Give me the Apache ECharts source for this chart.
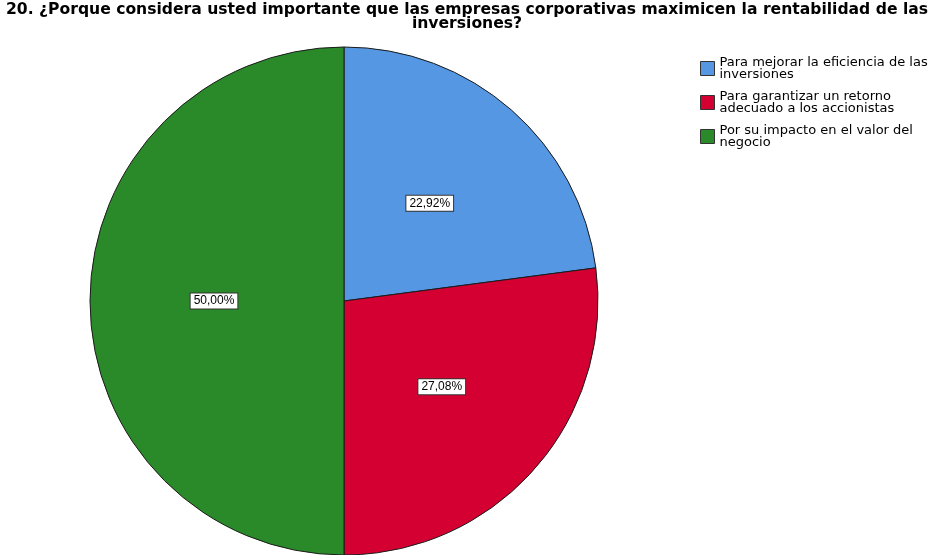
<!DOCTYPE html>
<html>
<head>
<meta charset="utf-8">
<script src="https://cdn.jsdelivr.net/npm/echarts@6/dist/echarts.min.js"></script>
<style>
  html, body { margin: 0; padding: 0; background: #fff; }
  #pie { width: 934px; height: 555px; }
</style>
</head>
<body>
<div id="pie"></div>
<script>
// respuestas de la pregunta 20
const categorias = [
    'Para mejorar la eficiencia de las\ninversiones',
    'Para garantizar un retorno\nadecuado a los accionistas',
    'Por su impacto en el valor del\nnegocio'
];
const porcentajes = [22.92, 27.08, 50.00];
const colores = ['#5597e3', '#d50032', '#2a8a2a'];
const tituloLineas = [
    '20. ¿Porque considera usted importante que las empresas corporativas maximicen la rentabilidad de las',
    'inversiones?'
];

let myChart = echarts.init(document.getElementById('pie'));

const estiloTitulo = {
    fontFamily: 'DejaVu Sans',
    fontSize: 15.6,
    fontWeight: 'bold',
    color: '#000'
};

myChart.setOption({
    animation: false,
    color: colores,
    title: tituloLineas.map((t, i) => ({
        text: t,
        left: 'center',
        top: 2 + i * 14,
        padding: 0,
        textStyle: estiloTitulo
    })),
    legend: {
        orient: 'vertical',
        left: 700,
        top: 56,
        padding: 0,
        itemWidth: 14,
        itemHeight: 14,
        itemGap: 9,
        icon: 'rect',
        itemStyle: { borderColor: '#333', borderWidth: 1 },
        textStyle: {
            fontFamily: 'DejaVu Sans',
            fontSize: 13,
            lineHeight: 12,
            color: '#000'
        },
        data: categorias
    },
    series: [{
        type: 'pie',
        center: [344, 301],
        radius: 254,
        startAngle: 90,
        clockwise: true,
        itemStyle: { borderColor: '#1a1a1a', borderWidth: 1 },
        emphasis: { disabled: true },
        label: {
            position: 'inside',
            formatter: p => p.value.toFixed(2).replace('.', ',') + '%',
            fontFamily: 'Liberation Sans',
            fontSize: 12,
            color: '#000',
            backgroundColor: '#fff',
            borderColor: '#333',
            borderWidth: 1,
            padding: [2, 3, 1, 3]
        },
        labelLine: { show: false },
        data: categorias.map((c, i) => ({ name: c, value: porcentajes[i] }))
    }]
});
</script>
</body>
</html>
